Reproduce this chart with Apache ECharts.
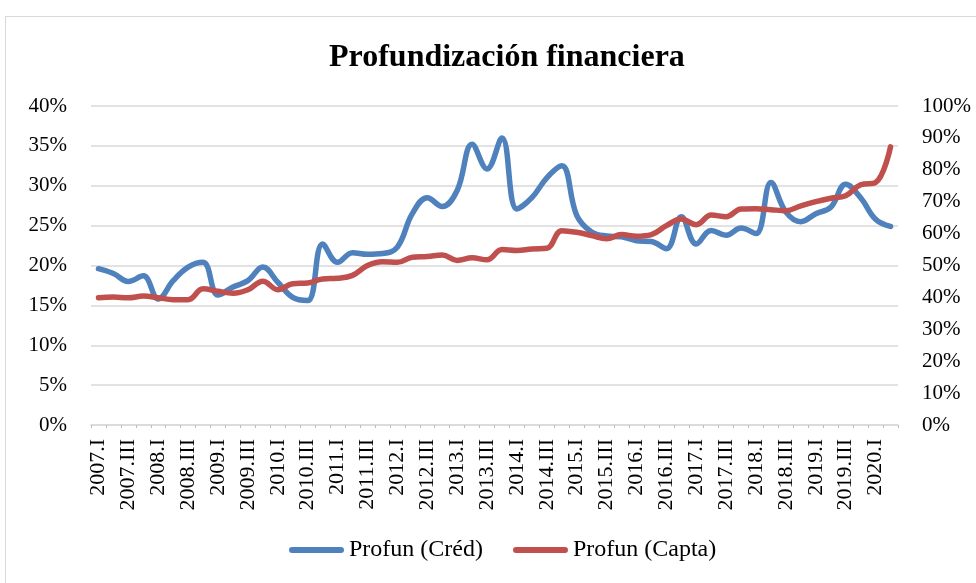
<!DOCTYPE html>
<html>
<head>
<meta charset="utf-8">
<script src="https://cdn.jsdelivr.net/npm/echarts@6/dist/echarts.min.js"></script>
<style>
  html, body { margin: 0; padding: 0; background: #fff; }
  #frame { position: absolute; left: 5px; top: 16px; width: 980px; height: 580px; border: 1px solid #d9d9d9; box-sizing: border-box; }
  #main { position: absolute; left: 0; top: 0; width: 976px; height: 583px; }
</style>
</head>
<body>
<div id="frame"></div>
<div id="main"></div>
<script>
// trimestres 2007.I - 2020.II
let years = [2007, 2008, 2009, 2010, 2011, 2012, 2013, 2014, 2015, 2016, 2017, 2018, 2019, 2020];
let quarters = ['I', 'II', 'III', 'IV'];
let categories = [];
years.forEach(function (y) {
    quarters.forEach(function (q) {
        if (y === 2020 && (q === 'III' || q === 'IV')) return;
        categories.push(y + '.' + q);
    });
});

// Profun (Créd) - eje izquierdo, %
let credito = [
    19.6, 19.0, 18.0, 18.7, 15.8, 18.1, 19.8, 20.4, 16.3, 17.3,
    18.1, 19.8, 17.9, 16.0, 15.6, 22.7, 20.4, 21.6, 21.4, 21.5,
    22.3, 26.5, 28.5, 27.4, 29.4, 35.2, 32.1, 36.0, 27.1, 28.5,
    31.0, 32.5, 26.3, 24.2, 23.7, 23.6, 23.1, 23.0, 22.1, 26.1,
    22.7, 24.4, 23.8, 24.7, 24.0, 30.4, 26.7, 25.5, 26.5, 27.3,
    30.2, 28.5, 25.8, 24.9
];

// Profun (Capta) - eje derecho, %
let captacion = [
    39.9, 40.1, 39.9, 40.4, 39.9, 39.3, 39.3, 42.7, 41.9, 41.3,
    42.4, 45.1, 42.4, 44.3, 44.5, 45.8, 46.0, 46.9, 50.0, 51.2,
    51.0, 52.6, 52.8, 53.3, 51.6, 52.4, 51.8, 55.0, 54.7, 55.2,
    55.4, 60.9, 60.4, 59.4, 58.4, 59.7, 59.2, 59.7, 62.5, 64.6,
    62.8, 65.8, 65.3, 67.7, 67.8, 67.5, 67.2, 68.7, 70.0, 71.1,
    71.9, 75.3, 76.0, 87.2
];

let serif = '"Liberation Serif", "DejaVu Serif", serif';
// icono de leyenda: trazo grueso con extremos redondeados
let lineIcon = 'path://M3,0 H52 A3,3 0 0 1 52,6 H3 A3,3 0 0 1 3,0 Z';

let myChart = echarts.init(document.getElementById('main'));
let option = {
    color: ['#4F81BD', '#C0504D'],
    animation: false,
    title: {
        text: 'Profundización financiera',
        left: 324,
        top: 37,
        textStyle: {
            fontFamily: serif,
            fontWeight: 'bold',
            fontSize: 32,
            color: '#000'
        }
    },
    grid: {
        left: 91,
        right: 78,
        top: 106,
        bottom: 158,
        containLabel: false
    },
    legend: {
        bottom: 16,
        left: 284,
        icon: lineIcon,
        itemWidth: 55,
        itemHeight: 6,
        itemGap: 30,
        textStyle: {
            fontFamily: serif,
            fontSize: 24,
            color: '#000'
        },
        data: ['Profun (Créd)', 'Profun (Capta)']
    },
    xAxis: {
        type: 'category',
        data: categories,
        boundaryGap: true,
        axisLine: { show: true, lineStyle: { color: '#d9d9d9', width: 1.5 } },
        axisTick: { show: true, interval: 0, length: 3, lineStyle: { color: '#bfbfbf' } },
        axisLabel: {
            interval: 1,
            rotate: 90,
            margin: 14,
            fontFamily: serif,
            fontSize: 22,
            color: '#000'
        },
        splitLine: { show: false }
    },
    yAxis: [{
        type: 'value',
        min: 0,
        max: 40,
        interval: 5,
        axisLabel: {
            formatter: '{value}%',
            margin: 24,
            fontFamily: serif,
            fontSize: 21,
            color: '#000'
        },
        axisLine: { show: false },
        axisTick: { show: false },
        splitLine: { lineStyle: { color: '#d9d9d9', width: 1.5 } }
    }, {
        type: 'value',
        min: 0,
        max: 100,
        interval: 10,
        axisLabel: {
            formatter: '{value}%',
            margin: 24,
            fontFamily: serif,
            fontSize: 21,
            color: '#000'
        },
        axisLine: { show: false },
        axisTick: { show: false },
        splitLine: { show: false }
    }],
    series: [{
        name: 'Profun (Créd)',
        type: 'line',
        yAxisIndex: 0,
        data: credito,
        smooth: 0.4,
        symbol: 'none',
        lineStyle: { width: 5.5, cap: 'round' }
    }, {
        name: 'Profun (Capta)',
        type: 'line',
        yAxisIndex: 1,
        data: captacion,
        smooth: 0.4,
        symbol: 'none',
        lineStyle: { width: 5.5, cap: 'round' }
    }]
};
myChart.setOption(option);
</script>
</body>
</html>
